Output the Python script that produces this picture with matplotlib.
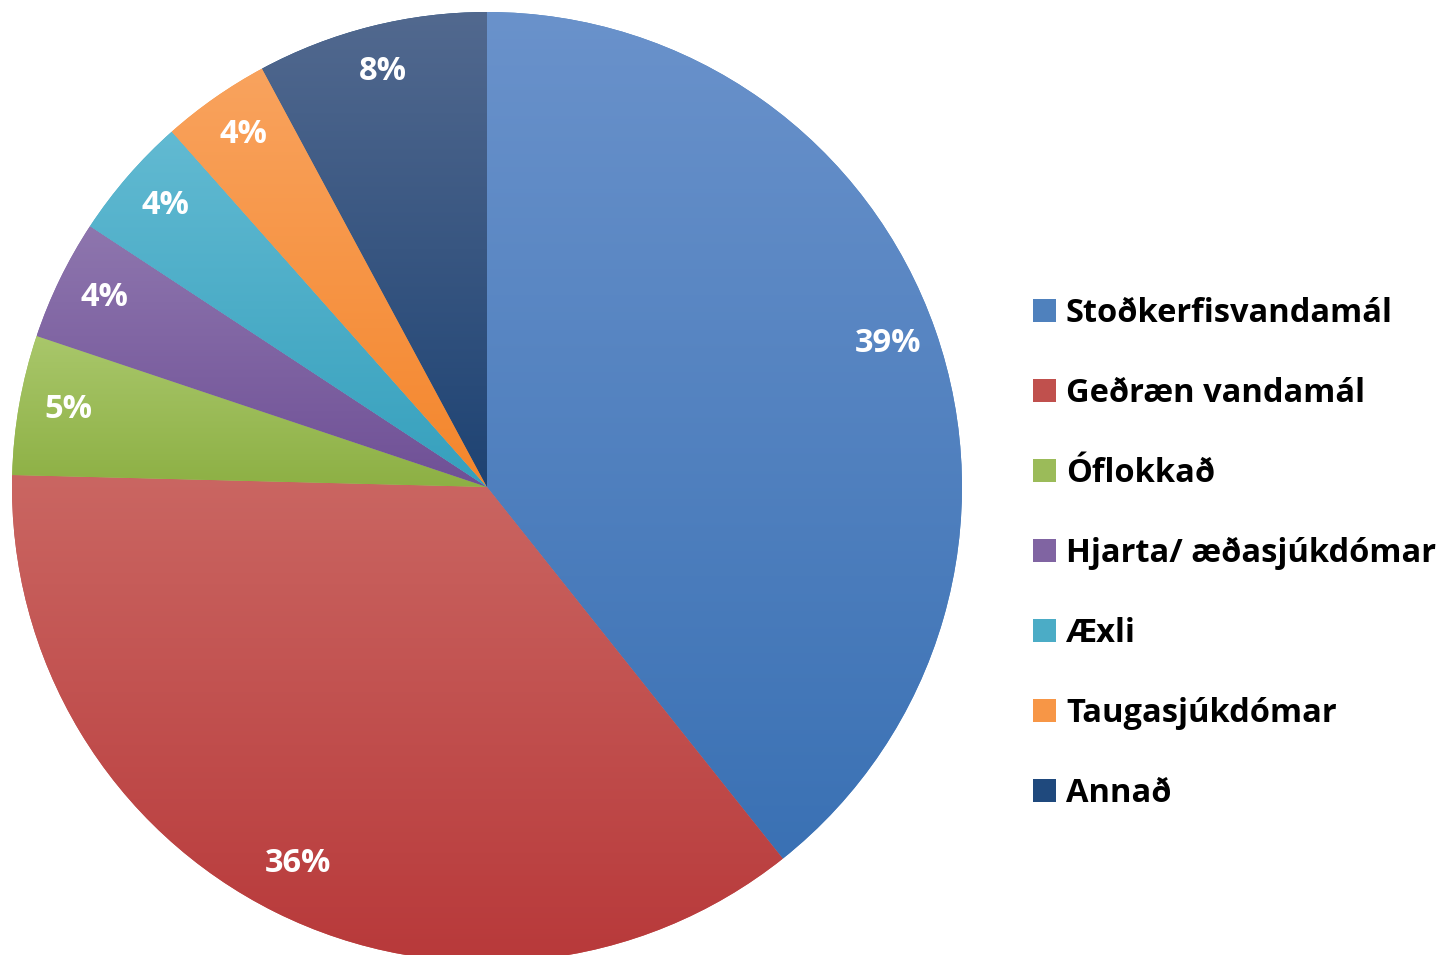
import matplotlib.pyplot as plt
import matplotlib.colors as mcolors
import numpy as np

flokkar = ['Stoðkerfisvandamál', 'Geðræn vandamál', 'Óflokkað',
           'Hjarta/ æðasjúkdómar', 'Æxli', 'Taugasjúkdómar', 'Annað']
hlutfall = [39.3, 36.1, 4.75, 4.1, 4.2, 3.7, 7.85]
litir = ['#4F81BD', '#C0504D', '#9BBB59', '#8064A2', '#4BACC6', '#F79646', '#1F497D']
# halli: ljós efst, dökkur neðst
litir_efst = ['#6A92CB', '#CA6662', '#A9C76B', '#8E76AE', '#62BAD2', '#F9A35E', '#52698F']
litir_nedst = ['#3A71B4', '#B8393A', '#8DB044', '#6F5096', '#36A0BD', '#F4862C', '#1E4373']

plt.rcParams['font.family'] = ['Open Sans', 'DejaVu Sans']

fig = plt.figure(figsize=(14.43, 9.55), dpi=100)
ax = fig.add_axes([12 / 1443, -7 / 955, 950 / 1443, 950 / 955])

wedges, texts, pcts = ax.pie(hlutfall, colors=litir, startangle=90, counterclock=False,
                             autopct='%1.0f%%', pctdistance=0.895, radius=1,
                             textprops=dict(color='white', fontsize=23.5, fontweight='bold',
                                            va='center_baseline'))

for w, c1, c2 in zip(wedges, litir_efst, litir_nedst):
    a = np.array(mcolors.to_rgb(c1))
    b = np.array(mcolors.to_rgb(c2))
    bb = w.get_path().get_extents()
    t = np.linspace(0, 1, 256)[:, None]
    grad = a[None, :] * (1 - t) + b[None, :] * t
    img = ax.imshow(grad[:, None, :], extent=[bb.x0, bb.x1, bb.y0, bb.y1], origin='upper',
                    aspect='auto', zorder=1, interpolation='bilinear')
    img.set_clip_path(w)
    w.set_zorder(0)
for p in pcts:
    x, y = p.get_position()
    p.set_position((x, y + 0.016))  # aðeins ofar, eins og í Excel
    p.set_zorder(3)
ax.set_xlim(-1, 1)
ax.set_ylim(-1, 1)
ax.set_aspect('equal')
ax.axis('off')

leg = fig.legend(wedges, flokkar, loc='upper left', bbox_to_anchor=(1033 / 1443, 1 - 297 / 955),
                 frameon=False, prop=dict(weight='bold', size=23.5), borderpad=0, borderaxespad=0,
                 handlelength=0.7, handleheight=0.7, handletextpad=0.31, labelspacing=1.44)

fig.savefig('out.png', dpi=100)
